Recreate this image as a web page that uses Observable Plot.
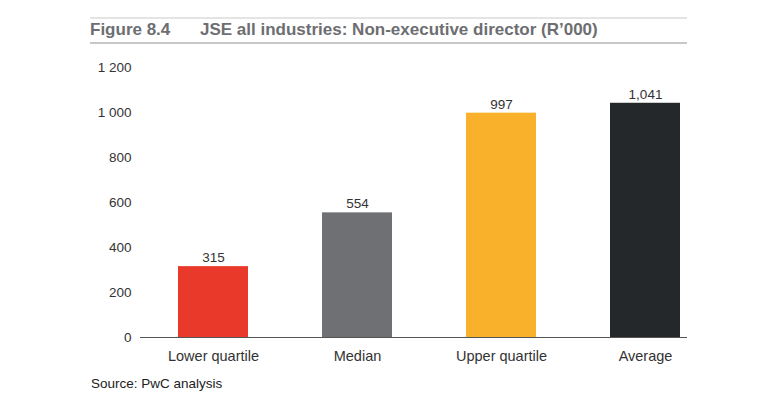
<!DOCTYPE html>
<html>
<head>
<meta charset="utf-8">
<script src="https://cdn.jsdelivr.net/npm/d3@7"></script>
<script src="https://cdn.jsdelivr.net/npm/@observablehq/plot@0.6"></script>
<style>
  html, body { margin: 0; padding: 0; background: #fff; width: 773px; height: 399px; overflow: hidden; }
  body { position: relative; font-family: "Liberation Sans", Arial, sans-serif; }
  #title { position: absolute; left: 90px; top: 17px; width: 597px; height: 27px;
           border-top: 2px solid #e4e4e4; border-bottom: 2px solid #c8c8c8;
           box-sizing: border-box; color: #6d6e71; font-weight: bold; font-size: 17px;
           line-height: 22px; white-space: nowrap; }
  #title .fig { display: inline-block; width: 110px; }
  #chart { position: absolute; left: 0; top: 50px; }
  #source { position: absolute; left: 91px; top: 376px; font-size: 13.5px; color: #222; }
</style>
</head>
<body>
<div id="title"><span class="fig">Figure 8.4</span>JSE all industries: Non-executive director (R’000)</div>
<div id="chart"></div>
<div id="source">Source: PwC analysis</div>
<script>
const categories = ["Lower quartile", "Median", "Upper quartile", "Average"];
const values = [315, 554, 997, 1041];
const colors = ["#e8392a", "#6e7073", "#f9b02b", "#25282a"];
const yTicks = [0, 200, 400, 600, 800, 1000, 1200];

const data = categories.map((c, i) => ({category: c, value: values[i]}));
const spaceFmt = d3.formatLocale({decimal: ".", thousands: "\u00a0", grouping: [3], currency: ["", ""]}).format(",");
const commaFmt = d3.format(",");

const chart = Plot.plot({
  width: 773,
  height: 320,
  marginLeft: 140,
  marginRight: 86,
  marginTop: 17,
  marginBottom: 33,
  style: {fontFamily: "Liberation Sans, Arial, sans-serif", fontSize: "13px", color: "#333", background: "transparent"},
  x: {domain: categories, paddingInner: 0.515, paddingOuter: 0.153, align: 0.84, label: null},
  y: {domain: [0, 1200], ticks: yTicks, label: null},
  color: {domain: categories, range: colors},
  marks: [
    Plot.axisY({ticks: yTicks, tickFormat: spaceFmt, tickSize: 0, tickPadding: 9, fontSize: 13.5, fill: "#333"}),
    Plot.axisX({tickSize: 0, tickPadding: 13, fontSize: 14.5, fill: "#333"}),
    Plot.barY(data, {x: "category", y: "value", fill: "category"}),
    Plot.ruleY([0], {stroke: "#555", strokeWidth: 1}),
    Plot.text(data, {x: "category", y: "value", text: d => commaFmt(d.value), dy: -9, fontSize: 13.5, fill: "#333"})
  ]
});
document.getElementById("chart").appendChild(chart);
</script>
</body>
</html>
